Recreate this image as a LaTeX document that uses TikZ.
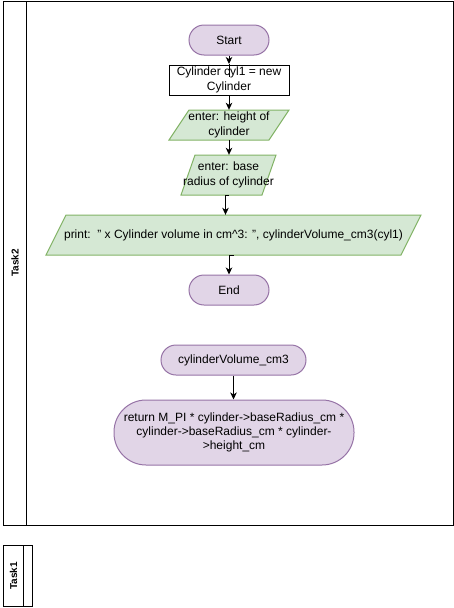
\documentclass[tikz,border=0pt]{standalone}
\usepackage{fontspec}
\setmainfont{Liberation Sans}
\usetikzlibrary{arrows.meta,calc}
\definecolor{pfill}{HTML}{E1D5E7}
\definecolor{pdraw}{HTML}{9673A6}
\definecolor{gfill}{HTML}{D5E8D4}
\definecolor{gdraw}{HTML}{82B366}
\tikzset{
  term/.style={draw=pdraw,fill=pfill,line width=1pt,align=center,inner sep=0pt},
  procbox/.style={draw=black,fill=white,line width=1pt,align=center,inner sep=0pt},
  txt/.style={align=center,inner sep=0pt},
  para/.style={draw=gdraw,fill=gfill,line width=1pt},
  lane/.style={draw=black,line width=1pt},
  lanelabel/.style={font=\bfseries,rotate=90,inner sep=0pt},
  arr/.style={line width=1pt,-{Stealth[length=7pt,width=6.5pt,inset=2pt]}},
  ln/.style={line width=1pt},
}
\begin{document}
\begin{tikzpicture}[x=1pt,y=-1pt,font=\fontsize{12}{14.5}\selectfont]
\useasboundingbox (0,0) rectangle (454,608);
% lanes
\draw[lane] (3.5,1.5) rectangle (453.5,525);
\draw[lane] (26.5,1.5) -- (26.5,525);
\node[lanelabel] (task2) at (15,263) {Task2};
\draw[lane] (3.5,545.5) rectangle (32.5,606.5);
\draw[lane] (23.5,545.5) -- (23.5,606.5);
\node[lanelabel] (task1) at (13.5,576) {Task1};
% parallelograms
\draw[para] (169,140) -- (189,110) -- (289,110) -- (269,140) -- cycle;
\draw[para] (181,195) -- (195,155) -- (276,155) -- (262,195) -- cycle;
\draw[para] (46,255) -- (66,215) -- (421,215) -- (401,255) -- cycle;
% nodes
\node[term,minimum width=80pt,minimum height=30pt,rounded corners=15pt] (start) at (229,40) {Start};
\node[procbox,minimum width=120pt,minimum height=30pt] (rect) at (229,80) {Cylinder cyl1 = new\\Cylinder};
\node[txt,minimum width=100pt,minimum height=30pt] (p1) at (229,125) {enter: height of\\cylinder};
\node[txt,minimum width=81pt,minimum height=40pt] (p2) at (228.5,175) {enter: base\\radius of cylinder};
\node[txt,minimum width=355pt,minimum height=40pt] (pr) at (233.5,235) {print:\ \ " x Cylinder volume in cm\^{}3: ", cylinderVolume\_cm3(cyl1)};
\node[term,minimum width=80pt,minimum height=30pt,rounded corners=15pt] (end) at (229,290) {End};
\node[term,minimum width=145pt,minimum height=30pt,rounded corners=15pt] (cv) at (233.5,360) {cylinderVolume\_cm3};
\node[term,minimum width=240pt,minimum height=65pt,rounded corners=32pt,font=\fontsize{12}{14}\selectfont] (ret) at (234,432.5) {return M\_PI * cylinder->baseRadius\_cm *\\cylinder->baseRadius\_cm * cylinder-\\>height\_cm};
% connectors
\coordinate (s1tip) at (229,64);
\coordinate (s1end) at (229,77);
\draw[arr] (start.south) -- (s1tip);
\draw[ln] (s1tip) -- (s1end);
\draw[arr] (rect.south) -- (p1.north);
\draw[arr] (p1.south) -- (p2.north -| p1.south);
\coordinate (c2a) at (229,195.5);
\coordinate (c2b) at (225.5,195.5);
\draw[arr] (c2a) -- (c2b) -- (c2b |- pr.north);
\coordinate (c3a) at (233.5,255.5);
\coordinate (c3b) at (229,255.5);
\draw[arr] (c3a) -- (c3b) -- (end.north);
\draw[arr] (cv.south) -- (ret.north -| cv.south);
\end{tikzpicture}
\end{document}
